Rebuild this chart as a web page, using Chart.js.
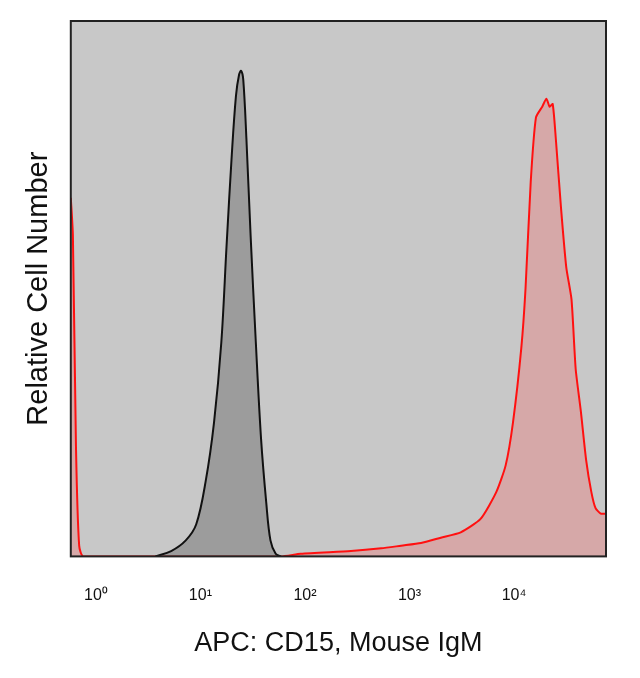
<!DOCTYPE html>
<html>
<head>
<script src="https://cdn.jsdelivr.net/npm/chart.js@4"></script>
<style>
  body { margin: 0; background: #fff; }
  #wrap { width: 640px; height: 678px; }
</style>
</head>
<body>
<div id="wrap"><canvas id="c"></canvas></div>
<script>
// x values are log10 of fluorescence intensity
const isoX = [0.57, 0.72, 0.86, 0.96, 1.05, 1.13, 1.20, 1.25, 1.30, 1.34, 1.37, 1.39, 1.41, 1.44, 1.48, 1.53, 1.58, 1.63, 1.67, 1.72, 1.77];
const isoY = [0, 1, 3, 6, 14, 25, 40, 58, 75, 86, 90, 90.7, 89, 78, 60, 40, 22, 10, 3, 0.5, 0];

const cd15X = [-0.24, -0.22, -0.19, -0.16, -0.12, 1.77, 1.96, 2.44, 2.73, 2.92, 3.11, 3.30, 3.49, 3.68, 3.83, 3.92, 3.99, 4.07, 4.11, 4.16, 4.21, 4.27, 4.31, 4.34, 4.37, 4.40, 4.45, 4.50, 4.55, 4.59, 4.64, 4.69, 4.74, 4.78, 4.83, 4.88];
const cd15Y = [67, 60, 20, 2, 0, 0, 0.5, 1, 1.5, 2, 2.5, 3.5, 4.5, 7, 12, 17, 25, 39, 50, 70, 82, 84, 85.5, 84, 84.5, 78, 65, 54, 48, 35, 27, 18, 12, 9, 8, 8];

const decades = [0, 1, 2, 3, 4];
const sup = ['⁰', '¹', '²', '³', '⁴'];

const toPoints = (xs, ys) => xs.map((x, i) => ({ x: x, y: ys[i] }));

const plotFrame = {
    id: 'plotFrame',
    beforeDatasetsDraw(chart) {
        const a = chart.chartArea, ctx = chart.ctx;
        ctx.save();
        ctx.fillStyle = '#c8c8c8';
        ctx.fillRect(a.left, a.top, a.right - a.left, a.bottom - a.top);
        ctx.restore();
    },
    afterDatasetsDraw(chart) {
        const a = chart.chartArea, ctx = chart.ctx;
        ctx.save();
        ctx.strokeStyle = '#222';
        ctx.lineWidth = 2;
        ctx.strokeRect(a.left, a.top, a.right - a.left, a.bottom - a.top);
        ctx.restore();
    }
};

new Chart(document.getElementById('c'), {
    type: 'line',
    data: {
        datasets: [{
            label: 'Mouse IgM',
            data: toPoints(isoX, isoY),
            borderColor: '#111',
            backgroundColor: 'rgba(90, 90, 90, 0.4)',
            borderWidth: 2,
            fill: 'origin',
            tension: 0.35,
            pointRadius: 0
        }, {
            label: 'CD15',
            data: toPoints(cd15X, cd15Y),
            borderColor: '#ff1010',
            backgroundColor: 'rgba(235, 120, 120, 0.4)',
            borderWidth: 2,
            fill: 'origin',
            tension: 0.2,
            pointRadius: 0
        }]
    },
    options: {
        responsive: true,
        maintainAspectRatio: false,
        animation: false,
        layout: { padding: { top: 21, right: 34, left: 18, bottom: 14 } },
        plugins: { legend: { display: false }, tooltip: { enabled: false } },
        scales: {
            x: {
                type: 'linear',
                min: -0.24,
                max: 4.88,
                afterBuildTicks(axis) {
                    axis.ticks = decades.map(v => ({ value: v }));
                },
                ticks: {
                    callback: v => '10' + sup[v],
                    color: '#111',
                    font: { family: 'Liberation Sans', size: 16 },
                    maxRotation: 0,
                    padding: 22
                },
                grid: { display: false },
                border: { display: false },
                title: {
                    display: true,
                    text: 'APC: CD15, Mouse IgM',
                    color: '#111',
                    font: { family: 'Liberation Sans', size: 27 },
                    padding: { top: 0 }
                }
            },
            y: {
                min: 0,
                max: 100,
                ticks: { display: false },
                grid: { display: false },
                border: { display: false },
                title: {
                    display: true,
                    text: 'Relative Cell Number',
                    color: '#111',
                    font: { family: 'Liberation Sans', size: 29 },
                    padding: { bottom: 6 }
                }
            }
        }
    },
    plugins: [plotFrame]
});
</script>
</body>
</html>
